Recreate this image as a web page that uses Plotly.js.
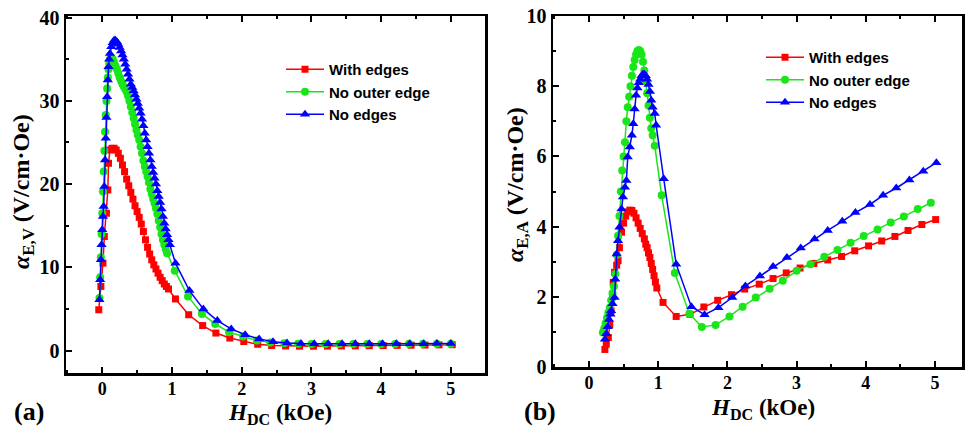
<!DOCTYPE html>
<html>
<head>
<meta charset="utf-8">
<script src="https://cdn.plot.ly/plotly-3.0.1.min.js"></script>
<style>html,body{margin:0;padding:0;background:#fff;}#chart{width:969px;height:429px;}</style>
</head>
<body>
<div id="chart"></div>
<script>
// ---------- Panel (a): alpha_E,V ----------
const aRedX = [-0.05,-0.02,0.01,0.03,0.06,0.08,0.09,0.11,0.14,0.17,0.20,0.23,0.26,0.29,0.32,0.35,0.38,0.41,0.44,0.47,0.50,0.53,0.56,0.59,0.62,0.65,0.68,0.71,0.74,0.77,0.80,0.83,0.86,0.89,0.92,0.95,1.05,1.24,1.44,1.63,1.83,2.03,2.23,2.43,2.63,2.83,3.03,3.23,3.43,3.63,3.83,4.03,4.23,4.43,4.63,4.83,5.02];
const aRedY = [4.9,7.7,10.5,13.7,16.5,19.3,22.5,24.1,24.3,24.3,24.1,23.7,23.1,22.3,21.5,20.6,19.8,19.0,18.2,17.4,16.7,16.0,15.2,14.3,13.3,12.4,11.6,10.9,10.3,9.8,9.3,8.8,8.4,8.0,7.7,7.4,6.2,4.3,3.0,2.1,1.5,1.08,0.75,0.6,0.55,0.52,0.52,0.53,0.55,0.56,0.58,0.6,0.62,0.64,0.66,0.68,0.7];

const aGreenX = [-0.04,-0.03,-0.02,-0.01,0.00,0.01,0.02,0.03,0.04,0.05,0.06,0.07,0.08,0.09,0.10,0.11,0.13,0.15,0.17,0.19,0.21,0.23,0.25,0.27,0.29,0.31,0.33,0.35,0.37,0.39,0.41,0.43,0.45,0.47,0.49,0.51,0.53,0.55,0.57,0.59,0.61,0.63,0.65,0.67,0.69,0.71,0.73,0.75,0.77,0.79,0.81,0.83,0.85,0.87,0.89,0.91,0.93,1.04,1.23,1.43,1.62,1.82,2.02,2.22,2.41,2.61,2.81,3.00,3.20,3.40,3.60,3.80,4.00,4.20,4.40,4.60,4.80,5.00];
const aGreenY = [6.3,8.8,11.2,14.0,16.5,19.1,21.5,24.0,26.3,28.3,30.0,31.5,32.8,33.8,34.5,35.0,35.2,35.0,34.6,34.2,33.8,33.3,32.8,32.4,32.0,31.7,31.4,31.1,30.6,30.0,29.3,28.6,27.9,27.2,26.5,25.9,25.3,24.5,23.7,22.8,22.1,21.5,20.9,20.2,19.4,18.8,18.2,17.7,17.1,16.4,15.6,14.8,14.0,13.3,12.7,12.2,11.7,9.6,6.5,4.4,3.2,2.2,1.7,1.2,0.98,0.86,0.8,0.78,0.77,0.77,0.77,0.78,0.78,0.79,0.8,0.8,0.81,0.82];

const aBlueX = [-0.04,-0.03,-0.02,-0.01,0.00,0.01,0.02,0.03,0.04,0.05,0.06,0.07,0.08,0.09,0.10,0.11,0.13,0.15,0.17,0.19,0.21,0.23,0.25,0.27,0.29,0.31,0.33,0.35,0.37,0.39,0.41,0.43,0.45,0.47,0.49,0.51,0.53,0.55,0.57,0.59,0.61,0.63,0.65,0.67,0.69,0.71,0.73,0.75,0.77,0.79,0.81,0.83,0.85,0.87,0.89,0.91,0.93,0.95,0.97,1.05,1.25,1.45,1.65,1.85,2.05,2.25,2.45,2.65,2.85,3.04,3.24,3.44,3.63,3.83,4.02,4.22,4.41,4.61,4.80,5.00];
const aBlueY = [6.1,8.5,10.9,12.7,14.5,16.1,17.3,19.7,22.9,25.5,28.0,30.5,32.5,34.1,35.0,35.7,36.5,37.0,37.3,37.3,37.1,36.8,36.4,36.0,35.5,35.0,34.4,33.8,33.2,32.6,32.0,31.6,31.2,30.7,30.2,29.7,29.1,28.5,27.8,27.0,26.1,25.3,24.5,23.7,22.9,22.1,21.4,20.7,20.0,19.2,18.5,17.8,17.0,16.1,15.3,14.6,13.9,13.3,12.7,10.5,7.2,5.0,3.6,2.6,1.9,1.4,1.06,0.9,0.84,0.82,0.81,0.8,0.8,0.8,0.81,0.81,0.82,0.82,0.83,0.84];

// ---------- Panel (b): alpha_E,A ----------
const bRedX = [0.23,0.25,0.28,0.30,0.32,0.34,0.35,0.37,0.40,0.42,0.44,0.47,0.50,0.53,0.56,0.59,0.62,0.65,0.68,0.71,0.74,0.77,0.80,0.82,0.84,0.86,0.88,0.90,0.92,0.94,0.96,0.98,1.07,1.26,1.46,1.66,1.86,2.06,2.25,2.46,2.66,2.85,3.05,3.25,3.45,3.65,3.84,4.04,4.23,4.42,4.61,4.81,5.01];
const bRedY = [0.5,0.65,0.84,1.2,1.6,2.0,2.41,2.7,2.9,3.03,3.4,3.84,4.1,4.3,4.42,4.47,4.46,4.38,4.25,4.1,3.95,3.8,3.65,3.5,3.4,3.25,3.12,2.95,2.78,2.6,2.42,2.25,1.84,1.44,1.5,1.71,1.9,2.06,2.22,2.36,2.52,2.68,2.82,2.95,3.05,3.15,3.31,3.45,3.59,3.72,3.89,4.06,4.2];

const bGreenX = [0.20,0.22,0.24,0.26,0.28,0.30,0.32,0.34,0.36,0.38,0.40,0.42,0.44,0.46,0.48,0.50,0.52,0.54,0.56,0.58,0.60,0.62,0.64,0.66,0.68,0.70,0.72,0.74,0.76,0.78,0.80,0.82,0.84,0.86,0.88,0.90,0.92,0.95,1.05,1.24,1.45,1.63,1.83,2.03,2.22,2.41,2.61,2.80,3.00,3.20,3.40,3.59,3.78,3.97,4.17,4.36,4.55,4.75,4.94];
const bGreenY = [0.98,1.1,1.25,1.4,1.55,1.69,1.9,2.1,2.3,2.65,3.2,3.74,4.3,5.0,5.6,6.0,6.4,7.0,7.4,7.7,8.0,8.3,8.55,8.75,8.9,9.0,9.03,9.0,8.9,8.7,8.45,8.15,7.8,7.45,7.1,6.8,6.6,6.3,4.89,2.68,1.52,1.14,1.2,1.44,1.72,1.98,2.23,2.46,2.74,2.93,3.14,3.33,3.54,3.73,3.92,4.12,4.29,4.5,4.68];

const bBlueX = [0.23,0.25,0.27,0.29,0.31,0.32,0.34,0.37,0.38,0.40,0.42,0.44,0.47,0.49,0.52,0.54,0.56,0.59,0.62,0.64,0.66,0.68,0.70,0.72,0.74,0.76,0.78,0.80,0.82,0.84,0.86,0.88,0.90,0.92,0.95,0.97,1.08,1.26,1.48,1.67,1.87,2.07,2.26,2.47,2.66,2.86,3.06,3.26,3.45,3.66,3.85,4.06,4.25,4.44,4.63,4.83,5.02];
const bBlueY = [0.79,0.95,1.15,1.35,1.5,1.6,1.8,1.98,2.5,3.22,3.6,3.98,4.5,4.84,5.12,5.31,5.98,6.27,6.6,6.93,7.35,7.74,7.95,8.1,8.2,8.3,8.34,8.34,8.3,8.2,8.05,7.85,7.6,7.4,7.22,6.89,5.36,2.93,1.72,1.49,1.69,1.98,2.31,2.59,2.86,3.12,3.39,3.65,3.89,4.15,4.4,4.63,4.89,5.1,5.33,5.58,5.82];

const seriesNames = ['With edges','No outer edge','No edges'];
const xTickVals = [0,1,2,3,4,5];
const yTickValsA = [0,10,20,30,40];
const yTickValsB = [0,2,4,6,8,10];

const RED='#ff0000', GREEN='#19e619', BLUE='#0000ff';
const SERIF = 'Liberation Serif';
const SANS = 'Liberation Sans';

function tr(x,y,name,color,symbol,size,xa,ya,leg){
  return {x:x,y:y,name:name,type:'scatter',mode:'lines+markers',xaxis:xa,yaxis:ya,legend:leg,
    line:{color:color,width:1.5},marker:{color:color,symbol:symbol,size:size}};
}

const data = [
  tr(aRedX,aRedY,seriesNames[0],RED,'square',7,'x','y','legend'),
  tr(aGreenX,aGreenY,seriesNames[1],GREEN,'circle',8,'x','y','legend'),
  tr(aBlueX,aBlueY,seriesNames[2],BLUE,'triangle-up',9,'x','y','legend'),
  tr(bRedX,bRedY,seriesNames[0],RED,'square',7,'x2','y2','legend2'),
  tr(bGreenX,bGreenY,seriesNames[1],GREEN,'circle',8,'x2','y2','legend2'),
  tr(bBlueX,bBlueY,seriesNames[2],BLUE,'triangle-up',9,'x2','y2','legend2')
];

const xTickFont = {family:SERIF,size:18,color:'#000',weight:'bold'};
const yTickFont = {family:SERIF,size:20,color:'#000',weight:'bold'};
function xax(domain,range,anchor){
  return {domain:domain,range:range,anchor:anchor,tickvals:xTickVals,ticks:'inside',ticklen:6,tickwidth:2,
    tickcolor:'#000',showline:true,linewidth:2.5,linecolor:'#000',mirror:'ticks',showgrid:false,zeroline:false,
    ticklabelstandoff:-2,
    tickfont:xTickFont,minor:{dtick:0.5,tick0:0,ticks:'inside',ticklen:3,tickwidth:2,tickcolor:'#000'}};
}
function yax(domain,range,anchor,tv,minorD){
  return {domain:domain,range:range,anchor:anchor,tickvals:tv,ticks:'inside',ticklen:6,tickwidth:2,
    tickcolor:'#000',showline:true,linewidth:2.5,linecolor:'#000',mirror:true,showgrid:false,zeroline:false,
    tickfont:yTickFont,minor:{dtick:minorD,tick0:0,ticks:'inside',ticklen:3,tickwidth:2,tickcolor:'#000'}};
}
const legFont = {family:SANS,size:15,color:'#000',weight:'bold'};
const yTitleFont = {family:SERIF,size:24,color:'#000',weight:'bold'};
const xTitleFont = {family:SERIF,size:23,color:'#000',weight:'bold'};
const panelFont = {family:SERIF,size:26,color:'#000',weight:'bold'};

const layout = {
  width:969,height:429,margin:{l:0,r:0,t:0,b:0},paper_bgcolor:'#fff',plot_bgcolor:'#fff',
  font:{family:SERIF},
  xaxis:xax([66/969,485/969],[-0.52,5.49],'y'),
  yaxis:yax([56/429,413/429],[-2.7,40.2],'x',yTickValsA,5),
  xaxis2:xax([553/969,962/969],[-0.52,5.39],'y2'),
  yaxis2:yax([62/429,413/429],[0,10],'x2',yTickValsB,1),
  legend:{x:281/969,y:(429-53)/429,xanchor:'left',yanchor:'top',font:legFont,bgcolor:'rgba(0,0,0,0)',itemwidth:38},
  legend2:{x:761/969,y:(429-41)/429,xanchor:'left',yanchor:'top',font:legFont,bgcolor:'rgba(0,0,0,0)',itemwidth:38},
  annotations:[
    {xref:'paper',yref:'paper',x:23/969,y:(429-192)/429,text:'<i>α</i><sub>E,V</sub> (V/cm·Oe)',textangle:-90,showarrow:false,font:yTitleFont,xanchor:'center',yanchor:'middle'},
    {xref:'paper',yref:'paper',x:517/969,y:(429-185)/429,text:'<i>α</i><sub>E,A</sub> (V/cm·Oe)',textangle:-90,showarrow:false,font:yTitleFont,xanchor:'center',yanchor:'middle'},
    {xref:'paper',yref:'paper',x:280/969,y:(429-414)/429,text:'<i>H</i><sub>DC</sub> (kOe)',showarrow:false,font:xTitleFont,xanchor:'center',yanchor:'middle'},
    {xref:'paper',yref:'paper',x:763/969,y:(429-409)/429,text:'<i>H</i><sub>DC</sub> (kOe)',showarrow:false,font:xTitleFont,xanchor:'center',yanchor:'middle'},
    {xref:'paper',yref:'paper',x:29/969,y:(429-411)/429,text:'(a)',showarrow:false,font:panelFont,xanchor:'center',yanchor:'middle'},
    {xref:'paper',yref:'paper',x:540/969,y:(429-411)/429,text:'(b)',showarrow:false,font:panelFont,xanchor:'center',yanchor:'middle'}
  ]
};
Plotly.newPlot('chart',data,layout,{displayModeBar:false,staticPlot:true});
</script>
</body>
</html>
